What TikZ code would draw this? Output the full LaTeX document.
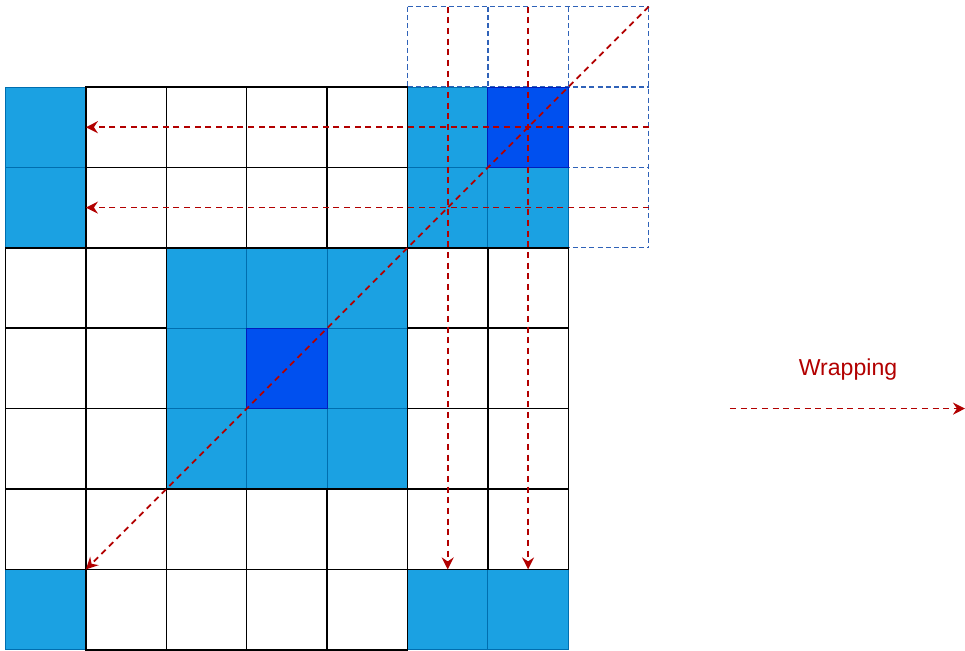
\documentclass[tikz,border=0pt]{standalone}
\usepackage{fontspec}
\setmainfont{Liberation Sans}
\usetikzlibrary{arrows.meta}
\definecolor{lblue}{HTML}{1BA1E2}
\definecolor{lbluedraw}{HTML}{006EAF}
\definecolor{dblue}{HTML}{0050EF}
\definecolor{dbluedraw}{HTML}{001DBC}
\definecolor{wred}{HTML}{B20000}
\definecolor{gridblue}{HTML}{2F62B8}
\begin{document}
\begin{tikzpicture}[x=60.3pt,y=-60.3pt,
  whitecell/.style={draw=black,line width=1.1pt},
  lightcell/.style={fill=lblue,draw=lbluedraw,line width=0.7pt},
  darkcell/.style={fill=dblue,draw=dbluedraw,line width=0.7pt},
  wrapline/.style={draw=gridblue,line width=0.9pt,dash pattern=on 3.8pt off 2.4pt},
  wraparrow/.style={wred,line width=1.3pt,dash pattern=on 4.5pt off 3.5pt,
    -{Stealth[length=9pt,width=9pt,inset=3pt]}},
  label/.style={text=wred,font=\fontsize{17.3pt}{20pt}\selectfont,inner sep=0pt}]
\useasboundingbox (-0.0684,-1.0821) rectangle (11.934,7.0025);
% wrapping grid (dashed), behind everything
\foreach \i in {5,6,7,8} \draw[wrapline] (\i,-1) -- (\i,2);
\foreach \j in {-1,0,1,2} \draw[wrapline] (5,\j) -- (8,\j);
% light cells
\foreach \c/\r in {0/0,0/1,5/0,5/1,6/1,2/2,3/2,4/2,2/3,4/3,2/4,3/4,4/4,0/6,5/6,6/6}
  \path[lightcell] (\c,\r) rectangle ++(1,1);
% dark cells
\foreach \c/\r in {6/0,3/3}
  \path[darkcell] (\c,\r) rectangle ++(1,1);
% white cells
\foreach \c/\r in {1/0,2/0,3/0,4/0,
                   1/1,2/1,3/1,4/1,
                   0/2,1/2,5/2,6/2,
                   0/3,1/3,5/3,6/3,
                   0/4,1/4,5/4,6/4,
                   0/5,1/5,2/5,3/5,4/5,5/5,6/5,
                   1/6,2/6,3/6,4/6}
  \path[whitecell] (\c,\r) rectangle ++(1,1);
% endpoints
\coordinate (h1s) at (8,0.5);
\coordinate (h1e) at (1,0.5);
\coordinate (h2s) at (8,1.5);
\coordinate (h2e) at (1,1.5);
\coordinate (v1s) at (5.5,-1);
\coordinate (v1e) at (5.5,6);
\coordinate (v2s) at (6.5,-1);
\coordinate (v2e) at (6.5,6);
\coordinate (ds) at (8,-1);
\coordinate (de) at (1,6);
\coordinate (ls) at (9.01,4);
\coordinate (le) at (11.934,4);
% arrows
\draw[wraparrow] (h1s) -- (h1e);
\draw[wraparrow] (h2s) -- (h2e);
\draw[wraparrow] (v1s) -- (v1e);
\draw[wraparrow] (v2s) -- (v2e);
\draw[wraparrow] (ds) -- (de);
\draw[wraparrow] (ls) -- (le);
\node[label] (wraplabel) at (10.479,3.52) {Wrapping};
\end{tikzpicture}
\end{document}
